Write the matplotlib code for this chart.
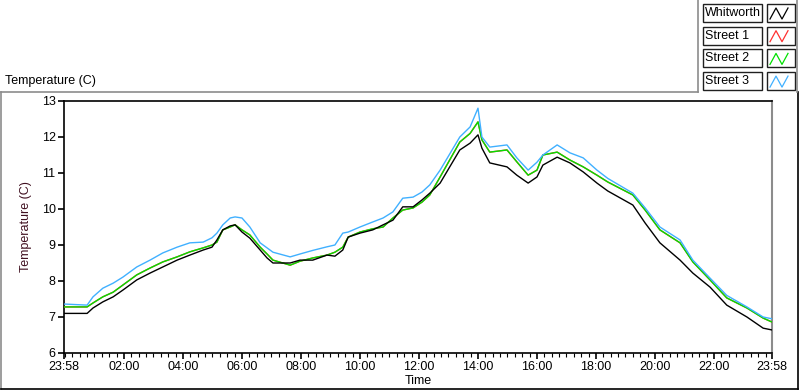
import matplotlib
matplotlib.use("Agg")
import matplotlib.pyplot as plt
from matplotlib.lines import Line2D
from matplotlib.patches import Rectangle
from matplotlib.ticker import FixedLocator, MultipleLocator

# minutes since 23:58
minutes = [0, 47, 59, 79, 100, 120, 148, 175, 201, 230, 256, 283, 301, 311, 323,
           338, 348, 362, 378, 399, 413, 425, 460, 480, 506, 535, 551, 567, 578,
           602, 628, 649, 669, 689, 710, 728, 744, 765, 805, 826, 842, 850, 866,
           901, 921, 944, 962, 974, 1003, 1029, 1056, 1084, 1106, 1157, 1182,
           1212, 1253, 1279, 1314, 1348, 1389, 1422, 1440]

whitworth = [7.10, 7.10, 7.25, 7.42, 7.56, 7.75, 8.03, 8.22, 8.39, 8.58, 8.72,
             8.86, 8.94, 9.14, 9.42, 9.53, 9.56, 9.36, 9.19, 8.86, 8.64, 8.50,
             8.50, 8.58, 8.58, 8.72, 8.69, 8.86, 9.22, 9.33, 9.42, 9.56, 9.69,
             10.06, 10.06, 10.25, 10.44, 10.72, 11.64, 11.83, 12.06, 11.69, 11.28,
             11.17, 10.94, 10.72, 10.89, 11.22, 11.44, 11.28, 11.03, 10.72, 10.50,
             10.11, 9.61, 9.06, 8.58, 8.22, 7.83, 7.33, 7.00, 6.69, 6.64]

street2 = [7.28, 7.28, 7.39, 7.56, 7.69, 7.89, 8.17, 8.36, 8.53, 8.67, 8.81,
           8.92, 9.00, 9.08, 9.42, 9.50, 9.56, 9.42, 9.28, 8.94, 8.75, 8.58,
           8.44, 8.55, 8.64, 8.72, 8.80, 8.94, 9.22, 9.36, 9.45, 9.50, 9.75,
           9.97, 10.03, 10.19, 10.39, 10.89, 11.86, 12.10, 12.42, 11.92, 11.58,
           11.64, 11.31, 10.94, 11.08, 11.50, 11.58, 11.36, 11.17, 10.94, 10.75,
           10.39, 9.97, 9.42, 9.06, 8.53, 8.03, 7.53, 7.25, 6.97, 6.86]

# Street 1 is hidden under Street 2 in the reference
street1 = street2

street3 = [7.36, 7.33, 7.56, 7.80, 7.94, 8.11, 8.39, 8.58, 8.78, 8.94, 9.06,
           9.08, 9.20, 9.33, 9.56, 9.75, 9.78, 9.75, 9.50, 9.06, 8.92, 8.80,
           8.67, 8.75, 8.85, 8.95, 9.00, 9.33, 9.36, 9.50, 9.64, 9.75, 9.92,
           10.30, 10.33, 10.47, 10.67, 11.08, 12.00, 12.28, 12.80, 12.00, 11.72,
           11.78, 11.42, 11.08, 11.30, 11.50, 11.78, 11.56, 11.42, 11.08, 10.85,
           10.44, 10.03, 9.50, 9.14, 8.58, 8.08, 7.60, 7.28, 7.00, 6.95]

series_names = ["Whitworth", "Street 1", "Street 2", "Street 3"]
series_colors = ["#000000", "#ff3030", "#00e000", "#40b0ff"]

tick_pos = [0, 122, 242, 362, 482, 602, 722, 842, 962, 1082, 1202, 1322, 1440]
tick_labels = ["23:58", "02:00", "04:00", "06:00", "08:00", "10:00", "12:00",
               "14:00", "16:00", "18:00", "20:00", "22:00", "23:58"]

plt.rcParams["font.family"] = ["Liberation Sans", "DejaVu Sans"]
FS = 9

fig = plt.figure(figsize=(8, 3.92), dpi=100)
ax = fig.add_axes([64 / 800, 1 - 353 / 392, 708 / 800, 252 / 392])

data = [whitworth, street1, street2, street3]
order = [1, 2, 0, 3]
for i in order:
    ax.plot(minutes, data[i], color=series_colors[i], lw=1.0, zorder=3 + (i == 0))

ax.set_xlim(0, 1440)
ax.set_ylim(6, 13)
ax.xaxis.set_major_locator(FixedLocator(tick_pos))
ax.set_xticklabels(tick_labels)
ax.xaxis.set_minor_locator(FixedLocator(list(range(2, 1440, 15))))
ax.yaxis.set_major_locator(MultipleLocator(1))
ax.tick_params(axis="both", which="major", direction="out", length=4, width=1.2,
               labelsize=FS, pad=2, color="black")
ax.tick_params(axis="x", which="minor", direction="out", length=3, width=0.8)
for s in ["left", "bottom", "top"]:
    ax.spines[s].set_color("black")
    ax.spines[s].set_linewidth(1.2)
ax.spines["right"].set_color("#8c8c8c")
ax.spines["right"].set_linewidth(1.5)

ax.set_xlabel("Time", fontsize=FS, labelpad=1)
ax.set_ylabel("Temperature (C)", fontsize=FS, color="#401020", labelpad=7)

# panel title
fig.text(5 / 800, 1 - 81 / 392, "Temperature (C)", fontsize=FS, va="center", ha="left")

# sunken panel border
def fline(x0, y0, x1, y1, color, lw=1.2):
    fig.add_artist(Line2D([x0 / 800, x1 / 800], [1 - y0 / 392, 1 - y1 / 392],
                          color=color, lw=lw, transform=fig.transFigure))

fline(1, 92, 698, 92, "#8c8c8c")
fline(1, 92, 1, 389, "#8c8c8c")
fline(1, 389, 798, 389, "black")
fline(798, 92, 798, 389, "black")
fline(698, 0, 698, 92, "#8c8c8c")
fline(797, 0, 797, 92, "#8c8c8c")

# legend boxes
for k, name in enumerate(series_names):
    yc = 13 + k * 22.7
    fig.add_artist(Rectangle((703 / 800, 1 - (yc + 9) / 392), 59 / 800, 18 / 392,
                             transform=fig.transFigure, facecolor="white",
                             edgecolor="#202020", lw=1))
    fig.text(705 / 800, 1 - yc / 392, name, fontsize=FS, va="center", ha="left")
    fig.add_artist(Rectangle((767 / 800, 1 - (yc + 9) / 392), 28 / 800, 18 / 392,
                             transform=fig.transFigure, facecolor="white",
                             edgecolor="#202020", lw=1))
    xs = [770, 776, 782, 788]
    ys = [yc + 6, yc - 5, yc + 6, yc - 5]
    fig.add_artist(Line2D([x / 800 for x in xs], [1 - y / 392 for y in ys],
                          color=series_colors[k], lw=0.9, transform=fig.transFigure))

fig.savefig("out.png", dpi=100)
